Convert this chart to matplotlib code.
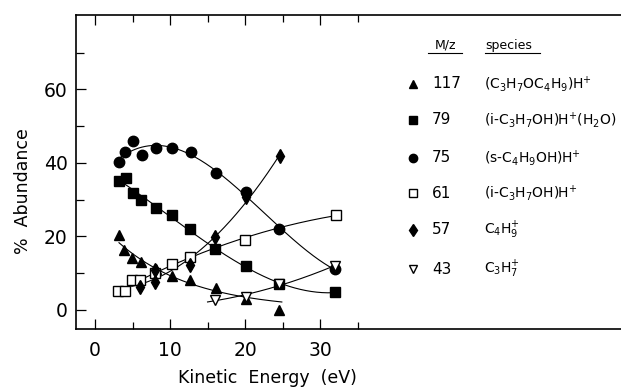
import numpy as np
import matplotlib
matplotlib.use("Agg")
import matplotlib.pyplot as plt
from matplotlib.lines import Line2D
from matplotlib.ticker import FixedLocator

# ---- data ----
x117 = [3.2, 3.9, 4.9, 6.1, 8.1, 10.2, 12.6, 16.1, 20.1, 24.5]
y117 = [20.4, 16.3, 14.0, 13.0, 11.1, 9.1, 8.0, 5.9, 3.0, 0.0]

x79 = [3.2, 4.1, 5.0, 6.1, 8.1, 10.3, 12.7, 16.0, 20.1, 24.5, 32.0]
y79 = [35.0, 36.0, 31.9, 29.9, 27.6, 25.8, 21.9, 16.6, 11.8, 7.0, 4.8]

x75 = [3.2, 4.0, 5.0, 6.2, 8.1, 10.3, 12.8, 16.1, 20.1, 24.5, 32.0]
y75 = [40.1, 43.0, 46.0, 42.1, 44.1, 44.1, 43.0, 37.1, 32.1, 21.9, 11.0]

x61 = [3.1, 4.0, 4.9, 6.0, 8.0, 10.2, 12.6, 20.0, 32.1]
y61 = [5.0, 5.0, 8.0, 8.0, 10.0, 12.4, 14.5, 19.0, 25.8]

x57 = [6.0, 8.0, 8.0, 12.6, 16.0, 20.1, 24.7]
y57 = [6.3, 7.7, 10.9, 12.2, 19.7, 30.8, 41.8]

x43 = [16.0, 20.1, 24.5, 32.0]
y43 = [2.7, 3.6, 7.0, 12.0]

mz_labels = ["117", "79", "75", "61", "57", "43"]
species = [r"(C$_3$H$_7$OC$_4$H$_9$)H$^{+}$",
           r"(i-C$_3$H$_7$OH)H$^{+}$(H$_2$O)",
           r"(s-C$_4$H$_9$OH)H$^{+}$",
           r"(i-C$_3$H$_7$OH)H$^{+}$",
           r"C$_4$H$_9^{+}$",
           r"C$_3$H$_7^{+}$"]

xlabel = "Kinetic  Energy  (eV)"
ylabel = "%  Abundance"

# ---- figure ----
W, H = 621, 388
fig = plt.figure(figsize=(W / 100, H / 100), dpi=100)
ax = fig.add_axes([76 / W, 1 - 329 / H, (621 - 76) / W, (329 - 15) / H])
ax.set_xlim(-2.53, 70.1)
ax.set_ylim(-5.2, 80.2)

# (x, y, marker style, fit degree, curve range, fit in log space)
series = [
    (x117, y117, dict(marker="^", mfc="black"), 1, (None, 24.9), True),
    (x79, y79, dict(marker="s", mfc="black"), 3, None, False),
    (x75, y75, dict(marker="o", mfc="black"), 3, None, False),
    (x61, y61, dict(marker="s", mfc="white"), 2, None, False),
    (x57, y57, dict(marker="d", mfc="black"), 2, (4.9, None), False),
    (x43, y43, dict(marker="v", mfc="white"), 2, (15.0, None), False),
]

for xs, ys, mk, deg, rng, logfit in series:
    xs_a = np.asarray(xs, float)
    ys_a = np.asarray(ys, float)
    lo = xs_a.min() if rng is None or rng[0] is None else rng[0]
    hi = xs_a.max() if rng is None or rng[1] is None else rng[1]
    xx = np.linspace(lo, hi, 200)
    if logfit:
        keep = ys_a > 0
        coef = np.polyfit(xs_a[keep], np.log(ys_a[keep]), deg)
        yy = np.exp(np.polyval(coef, xx))
    else:
        coef = np.polyfit(xs_a, ys_a, deg)
        yy = np.polyval(coef, xx)
    ax.plot(xx, yy, color="black", lw=0.8, zorder=2)

for xs, ys, mk, deg, rng, logfit in series:
    ax.plot(xs, ys, ls="none", mec="black", mew=1.0, ms=7.5,
            color="black", zorder=3, **mk)

# spines and ticks
ax.spines["right"].set_visible(False)
for s in ["left", "bottom", "top"]:
    ax.spines[s].set_linewidth(1.2)

ax.xaxis.set_major_locator(FixedLocator([0, 10, 20, 30]))
ax.xaxis.set_minor_locator(FixedLocator([5, 15, 25, 35]))
ax.yaxis.set_major_locator(FixedLocator([0, 20, 40, 60]))
ax.yaxis.set_minor_locator(FixedLocator([10, 30, 50, 70]))
ax.tick_params(axis="x", which="both", direction="in", top=True, bottom=True,
               labelsize=13.5, pad=9, width=0.9)
ax.tick_params(axis="x", which="major", length=7)
ax.tick_params(axis="x", which="minor", length=5)
ax.tick_params(axis="y", which="both", direction="in", left=True, right=False,
               labelsize=13.5, pad=6, width=0.9)
ax.tick_params(axis="y", which="major", length=7)
ax.tick_params(axis="y", which="minor", length=6)

fig.text(267 / W, 1 - 378 / H, xlabel, ha="center", va="center", fontsize=12.5)
fig.text(23 / W, 1 - 191 / H, ylabel, ha="center", va="center",
         rotation=90, fontsize=12.5)

# ---- legend (table on the right) ----
fig.text(445 / W, 1 - 45 / H, "M/z", ha="center", va="center", fontsize=9)
fig.add_artist(Line2D([428 / W, 462 / W], [1 - 53 / H, 1 - 53 / H],
                      color="black", lw=0.8))
fig.text(485 / W, 1 - 45 / H, "species", ha="left", va="center", fontsize=9)
fig.add_artist(Line2D([485 / W, 540 / W], [1 - 53 / H, 1 - 53 / H],
                      color="black", lw=0.8))

row_y = [84, 120, 158, 193, 230, 269]
leg_markers = [s[2] for s in series]
for yy, lab, sp, mk in zip(row_y, mz_labels, species, leg_markers):
    fig.add_artist(Line2D([413 / W], [1 - yy / H], ls="none", mec="black",
                          mew=1.0, ms=6, color="black", **mk))
    fig.text(432 / W, 1 - yy / H, lab, ha="left", va="center", fontsize=11)
    fig.text(484 / W, 1 - yy / H, sp, ha="left", va="center", fontsize=10)

fig.savefig("out.png", dpi=100)
